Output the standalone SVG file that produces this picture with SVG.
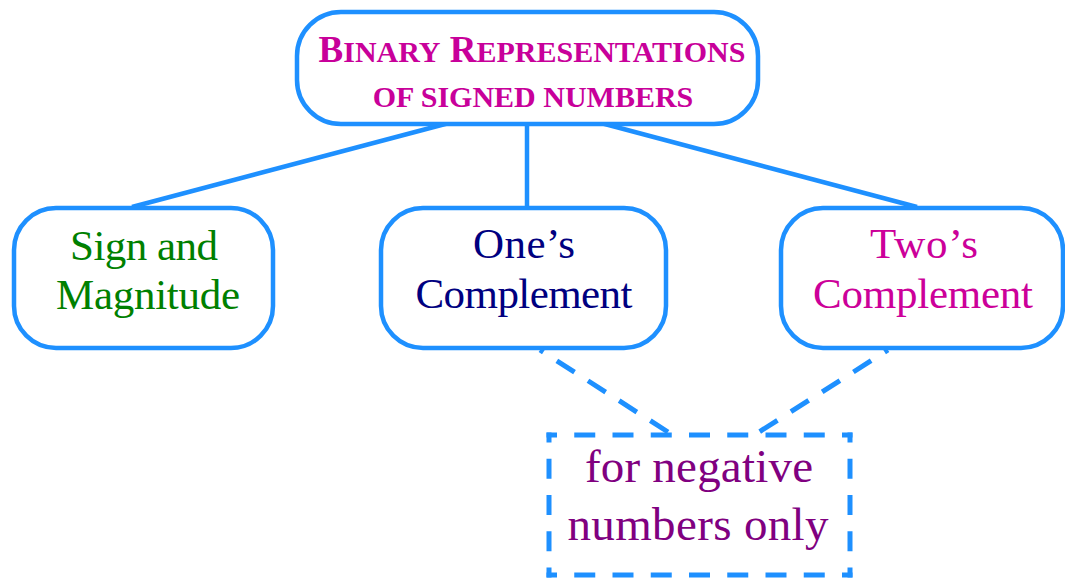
<svg xmlns="http://www.w3.org/2000/svg" width="1065" height="581" viewBox="0 0 1065 581">
  <style>
    .box { fill: #ffffff; stroke: #1E90FF; stroke-width: 4.5; }
    .dash { fill: none; stroke: #1E90FF; stroke-width: 5; stroke-dasharray: 21 16; stroke-dashoffset: 17; }
    .edge-h { fill: none; stroke: #1E90FF; stroke-width: 5; stroke-dasharray: 21 17.25; stroke-dashoffset: 10.5; }
    .edge-v { fill: none; stroke: #1E90FF; stroke-width: 5; stroke-dasharray: 20 16.25; stroke-dashoffset: 10; }
    .link { fill: none; stroke: #1E90FF; stroke-width: 4.5; }
    .lbl { font-family: "Liberation Serif", "Times New Roman", serif; font-size: 43px; text-anchor: middle; }
    .note { font-family: "Liberation Serif", "Times New Roman", serif; font-size: 47px; text-anchor: middle; fill: #800080; }
    .title { font-family: "Liberation Serif", "Times New Roman", serif; font-weight: bold; fill: #C8009A; text-anchor: middle; }
  </style>
  <rect width="1065" height="581" fill="#ffffff"/>

  <!-- connectors -->
  <g id="connectors">
    <line class="link" x1="449" y1="123" x2="132" y2="207"/>
    <line class="link" x1="527" y1="120" x2="527" y2="207"/>
    <line class="link" x1="601" y1="123" x2="917" y2="207"/>
    <line class="dash" x1="540" y1="350" x2="668" y2="432"/>
    <line class="dash" x1="888" y1="350" x2="759" y2="432"/>
  </g>

  <!-- root node -->
  <g id="root">
    <rect class="box" x="297" y="12" width="461" height="112" rx="44" ry="44"/>
    <text class="title" x="532" y="62" font-size="30"><tspan font-size="37">B</tspan>INARY<tspan font-size="37"> R</tspan>EPRESENTATIONS</text>
    <text class="title" x="533" y="107" font-size="30">OF SIGNED NUMBERS</text>
  </g>

  <!-- representation nodes -->
  <g id="sign-magnitude">
    <rect class="box" x="14" y="208" width="259" height="140" rx="42" ry="42"/>
    <text class="lbl" x="144" y="260" fill="#008000" textLength="148" lengthAdjust="spacing">Sign and</text>
    <text class="lbl" x="148" y="309" fill="#008000" textLength="184" lengthAdjust="spacing">Magnitude</text>
  </g>

  <g id="ones-complement">
    <rect class="box" x="381" y="208" width="285" height="140" rx="42" ry="42"/>
    <text class="lbl" x="524" y="258" fill="#000080" textLength="102" lengthAdjust="spacing">One’s</text>
    <text class="lbl" x="524" y="308" fill="#000080" textLength="217" lengthAdjust="spacing">Complement</text>
  </g>

  <g id="twos-complement">
    <rect class="box" x="781" y="208" width="282" height="140" rx="42" ry="42"/>
    <text class="lbl" x="924" y="258" fill="#CC0099" textLength="108" lengthAdjust="spacing">Two’s</text>
    <text class="lbl" x="923" y="308" fill="#CC0099" textLength="220" lengthAdjust="spacing">Complement</text>
  </g>

  <!-- note: dashed frame drawn edge by edge so every corner is solid -->
  <g id="negative-note">
    <rect x="549" y="435" width="301" height="140" fill="#ffffff"/>
    <line class="edge-h" x1="546.5" y1="435" x2="852.5" y2="435"/>
    <line class="edge-h" x1="546.5" y1="575" x2="852.5" y2="575"/>
    <line class="edge-v" x1="549" y1="432.5" x2="549" y2="577.5"/>
    <line class="edge-v" x1="850" y1="432.5" x2="850" y2="577.5"/>
    <text class="note" x="699" y="482" textLength="228" lengthAdjust="spacing">for negative</text>
    <text class="note" x="698" y="540" textLength="261" lengthAdjust="spacing">numbers only</text>
  </g>
</svg>
